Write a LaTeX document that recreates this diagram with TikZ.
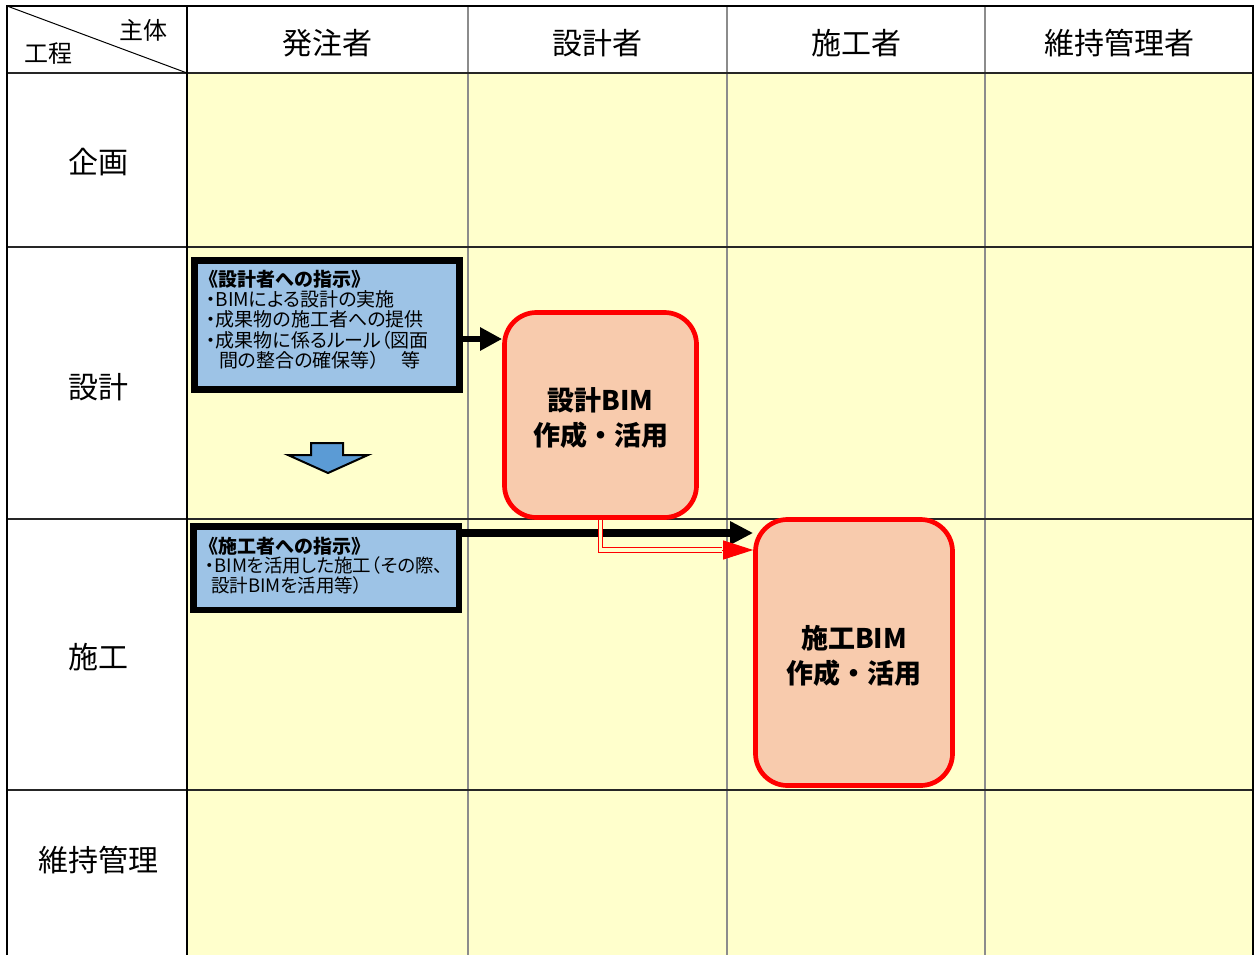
\documentclass[tikz,border=0pt]{standalone}
\usepackage{fontspec}
\newfontfamily\jp{Noto Sans CJK JP}
\newfontfamily\jpp{Noto Sans CJK JP}[RawFeature=+palt]
\usetikzlibrary{arrows.meta}
\definecolor{cellyellow}{HTML}{FFFFCC}
\definecolor{boxblue}{HTML}{9DC3E6}
\definecolor{boxpeach}{HTML}{F8CBAD}
\definecolor{arrowblue}{HTML}{5B9BD5}
\definecolor{gridgray}{HTML}{8C8C8C}
\begin{document}
\begin{tikzpicture}[x=1pt,y=-1pt,
  hdr/.style={font=\jp\fontsize{30}{36}\selectfont, inner sep=0pt},
  cornertext/.style={font=\jp\fontsize{24}{28}\selectfont, inner sep=0pt},
  bluebox/.style={draw=black, line width=6.5pt, fill=boxblue, minimum width=265pt, inner sep=0pt},
  bluetitle/.style={font=\jp\bfseries\fontsize{19}{21}\selectfont, anchor=base west, inner sep=0pt},
  blueline/.style={font=\jpp\fontsize{19}{21}\selectfont, anchor=base west, inner sep=0pt},
  bluelinesm/.style={font=\jpp\fontsize{18.5}{20}\selectfont, anchor=base west, inner sep=0pt},
  redbox/.style={draw=red, line width=4.7pt, fill=boxpeach, rounded corners=32pt, inner sep=0pt},
  redlabel/.style={font=\jp\bfseries\fontsize{27}{35}\selectfont, align=center, inner sep=0pt},
  blk/.style={line width=6pt, -{Triangle[length=22pt,width=22pt]}},
  blkthick/.style={line width=7.5pt, -{Triangle[length=23pt,width=22pt]}},
  dbl/.style={draw=red, line width=1.3pt, double=cellyellow, double distance=3.2pt},
  redtip/.style={draw=red, line width=1pt, -{Triangle[length=30pt,width=19pt]}},
  hline/.style={black!85, line width=2pt},
  vline/.style={gridgray, line width=1.2pt}
]
\useasboundingbox (0,0) rectangle (1257,955);
\fill[white] (0,0) rectangle (1257,955);
\fill[cellyellow] (187,73) rectangle (1253,955);
% grid
\draw[vline] (468,6) -- (468,955);
\draw[vline] (727,6) -- (727,955);
\draw[vline] (985,6) -- (985,955);
\draw[hline] (7,73) -- (1253,73);
\draw[hline] (7,247) -- (1253,247);
\draw[hline] (7,519) -- (1253,519);
\draw[hline] (7,790) -- (1253,790);
\draw[black, line width=2.5pt] (187,6) -- (187,955);
\draw[black, line width=2pt] (7,955) -- (7,6) -- (1253,6) -- (1253,955);
\draw[black, line width=1pt] (7,6) -- (187,73);
% header texts
\node[cornertext] (cshutai) at (143,30) {主体};
\node[cornertext] (ckotei) at (48,54) {工程};
\node[hdr] (h1) at (327,43) {発注者};
\node[hdr] (h2) at (597,43) {設計者};
\node[hdr] (h3) at (856,43) {施工者};
\node[hdr] (h4) at (1119,43) {維持管理者};
\node[hdr] (r1) at (98,162) {企画};
\node[hdr] (r2) at (98,387) {設計};
\node[hdr] (r3) at (98,657) {施工};
\node[hdr] (r4) at (98,860) {維持管理};
% instruction boxes
\node[bluebox, minimum height=129pt] (ins1) at (327,325) {};
\node[bluetitle] (t1) at (199,286) {《設計者への指示》};
\node[blueline] (t1a) at (206,306) {・BIMによる設計の実施};
\node[blueline] (t1b) at (206,326) {・成果物の施工者への提供};
\node[blueline] (t1c) at (206,347) {・成果物に係るルール（図面};
\node[blueline] (t1d) at (219,367) {間の整合の確保等）\kern22pt 等};
\node[bluebox, minimum width=265.5pt, minimum height=83.5pt] (ins2) at (326,568) {};
\node[bluetitle] (t2) at (199,553) {《施工者への指示》};
\node[bluelinesm] (t2a) at (205,572) {・BIMを活用した施工（その際、};
\node[bluelinesm] (t2b) at (211,592) {設計BIMを活用等）};
% BIM boxes
\node[redbox, minimum width=192pt, minimum height=205pt] (des) at (600.5,415) {};
\node[redlabel] (desl) at (600.5,418.5) {設計BIM\\作成・活用};
\node[redbox, minimum width=197pt, minimum height=266pt] (con) at (854,652.5) {};
\node[redlabel] (conl) at (854,655.5) {施工BIM\\作成・活用};
% down arrow
\draw[fill=arrowblue, line width=2pt, line join=miter] (311,443) -- (343,443) -- (343,455) -- (368,455) -- (328,473) -- (288,455) -- (311,455) -- cycle;
% connectors
\coordinate (a1y) at (0,339);
\coordinate (a2y) at (0,533);
\coordinate (a3y) at (0,550);
\coordinate (rt) at (722,550);
\draw[blk] (ins1.east |- a1y) -- (des.west |- a1y);
\draw[blkthick] (ins2.east |- a2y) -- (con.west |- a2y);
\draw[dbl] (des.south) |- (rt);
\draw[redtip] (rt) -- (con.west |- a3y);
\end{tikzpicture}
\end{document}
